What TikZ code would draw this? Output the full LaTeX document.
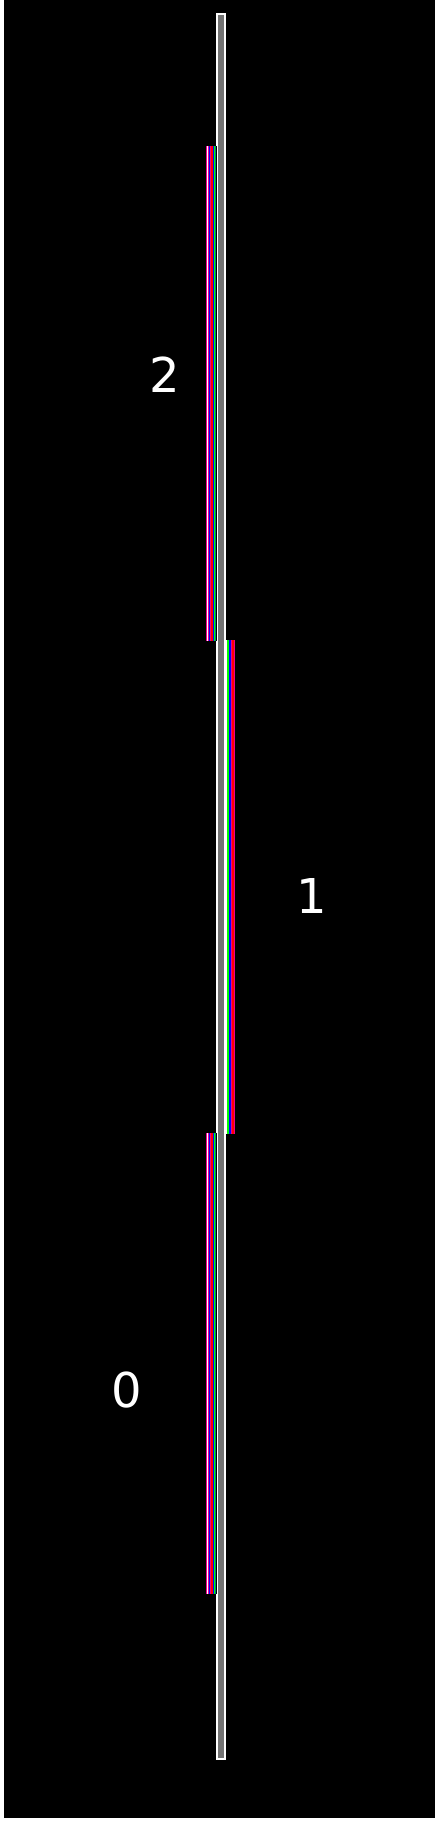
\documentclass[tikz,border=0pt]{standalone}
\usepackage{fontspec}
\setmainfont{DejaVu Sans}
\begin{document}
\begin{tikzpicture}[x=1pt,y=-1pt,
  lbl/.style={text=white,font=\fontsize{48}{48}\selectfont,inner sep=0pt}]
\useasboundingbox (0,0) rectangle (438,1823);
\fill[white] (0,0) rectangle (438,1823);
\fill[black] (4.3,0) rectangle (435,1818);
% central bar
\fill[white] (216.3,13.3) rectangle (226,1759.5);
\fill[gray!90!black] (218.3,15.3) rectangle (224,1757.5);
% strip 2 (left, top)
\foreach \c [count=\i from 0] in {magenta,white,magenta,blue,magenta,red,red,blue,green,teal,black}{
  \fill[\c] (205.7+\i,145.7) rectangle (206.7+\i,640.5);
}
% strip 1 (right, middle)
\foreach \c [count=\i from 0] in {white,green,green!40!white,green,blue,blue,magenta,red,red,magenta}{
  \fill[\c] (225.7+0.93*\i,640) rectangle (226.63+0.93*\i,1134);
}
% strip 0 (left, bottom)
\foreach \c [count=\i from 0] in {magenta,white,magenta,blue,magenta,red,red,blue,green,teal,black}{
  \fill[\c] (205.7+\i,1133.3) rectangle (206.7+\i,1594);
}
\node[lbl] (l2) at (165,375) {2};
\node[lbl] (l1) at (312,896) {1};
\node[lbl] (l0) at (127,1390) {0};
\end{tikzpicture}
\end{document}
